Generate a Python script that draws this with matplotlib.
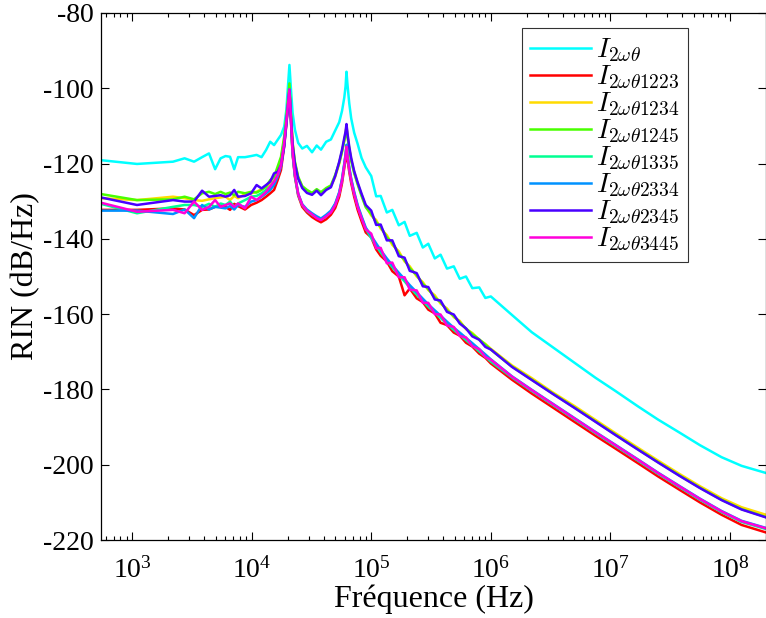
import numpy as np
import matplotlib
matplotlib.use("Agg")
from matplotlib import pyplot as plt
from matplotlib.ticker import LogLocator, NullFormatter

plt.rcParams['font.family'] = ['Liberation Serif', 'DejaVu Serif']
plt.rcParams['mathtext.fontset'] = 'cm'
plt.rcParams['axes.unicode_minus'] = False

# frequency grid (Hz) shared by all curves
FREQ = [550, 1100, 2200, 2750, 3300, 3850, 4400, 4950, 5500, 6050, 6600, 7150,
        7700, 8800, 9900, 11000, 12100, 13200, 14300, 15400, 16500, 17600, 18700, 19500,
        20700, 21300, 22000, 23000, 24500, 26500, 29000, 32000, 35000, 38000, 42000,
        46000, 50000, 54000, 57000, 59500, 61000, 62100, 63300, 65500, 68000, 72000,
        77000, 83000, 90000,
        1.0e5, 1.1e5, 1.2e5, 1.35e5, 1.5e5, 1.7e5, 1.9e5, 2.1e5, 2.4e5, 2.7e5, 3.0e5,
        3.4e5, 3.8e5, 4.3e5, 4.9e5, 5.5e5, 6.2e5, 7.0e5, 8.0e5, 9.0e5, 1.0e6,
        1.5e6, 2.2e6, 3.3e6, 5e6, 7.5e6, 1.1e7, 1.7e7, 2.5e7, 3.8e7, 5.6e7, 8.5e7,
        1.25e8, 2e8]

RIN_T = [-119.1, -120.1, -119.5, -118.6, -119.5, -118.3, -117.3, -121.5, -118.6, -118.0, -118.2, -121.5,
         -118.3, -118.3, -118.0, -117.7, -118.3, -116.4, -114.2, -115.1, -113.7, -112.4, -110.2, -105.8,
         -93.8, -100.0, -106.5, -111.0, -114.5, -116.0, -115.3, -117.0, -115.2, -116.3, -114.2,
         -113.6, -111.2, -109.0, -106.0, -102.5, -99.5, -95.6, -99.0, -104.0, -108.0, -111.8,
         -114.8, -118.5, -121.0,
         -123.3, -128.7, -128.6, -133.0, -132.3, -136.4, -135.5, -139.2, -138.4, -142.3, -141.3,
         -145.2, -144.2, -147.9, -147.3, -150.6, -150.0, -153.1, -152.9, -155.7, -155.3,
         -160.2, -164.8, -168.8, -172.9, -176.9, -180.4, -184.5, -188.0, -191.5, -194.8, -198.0,
         -200.3, -202.2]

RIN_1223 = [-132.3, -132.3, -131.9, -132.2, -133.7, -132.3, -132.2, -131.5, -131.3, -131.5, -132.3, -130.7,
            -131.3, -132.2, -131.0, -130.4, -129.7, -128.8, -127.9, -127.0, -124.4, -121.7, -115.5, -109.8,
            -100.5, -108.5, -117.5, -123.5, -128.5, -131.5, -133.0, -134.2, -135.0, -135.6, -134.8,
            -133.6, -131.8, -128.8, -125.2, -121.2, -118.8, -116.2, -118.8, -122.2, -125.2, -128.8,
            -132.3, -135.3, -138.3,
            -139.6, -142.8, -144.5, -146.0, -148.6, -150.0, -155.0, -153.2, -155.8, -156.8, -158.8,
            -159.8, -162.3, -162.9, -164.9, -165.7, -167.6, -168.6, -170.5, -171.6, -173.1,
            -177.4, -181.1, -184.8, -188.6, -192.3, -195.7, -199.6, -203.1, -206.7, -210.0, -213.3,
            -216.0, -218.0]

RIN_1234 = [-129.2, -129.7, -128.8, -129.2, -129.7, -129.9, -129.5, -129.2, -129.0, -128.8, -129.7, -128.6,
            -129.2, -128.1, -127.9, -127.5, -126.8, -126.3, -125.3, -123.9, -121.7, -119.1, -113.7, -108.4,
            -100.0, -107.0, -114.5, -119.8, -123.8, -126.2, -127.5, -128.0, -127.0, -128.0, -126.7,
            -126.0, -123.5, -120.0, -116.8, -113.8, -112.0, -110.0, -112.5, -116.0, -119.0, -122.3,
            -125.3, -128.3, -131.3,
            -133.8, -135.0, -137.3, -139.0, -141.6, -143.3, -146.0, -147.3, -150.0, -151.5, -153.6,
            -155.0, -157.2, -158.5, -160.8, -161.8, -164.0, -165.0, -166.8, -167.9, -169.2,
            -173.6, -177.0, -180.8, -184.4, -188.1, -191.6, -195.5, -198.9, -202.5, -205.7, -208.9,
            -211.3, -213.3]

RIN_1245 = [-128.1, -129.7, -129.5, -128.8, -129.5, -127.9, -127.5, -128.1, -127.5, -128.1, -127.7, -128.4,
            -127.5, -127.9, -127.5, -127.7, -127.0, -126.1, -124.4, -123.5, -120.8, -118.2, -112.9, -107.5,
            -98.7, -106.5, -114.5, -119.5, -123.5, -126.0, -127.0, -127.8, -126.8, -127.6, -126.5,
            -125.8, -123.0, -119.8, -116.8, -114.0, -112.3, -110.3, -112.8, -116.2, -119.2, -122.5,
            -125.5, -128.6, -131.6,
            -133.4, -135.6, -136.8, -139.6, -141.0, -144.0, -145.6, -147.8, -149.6, -152.0, -153.3,
            -155.6, -156.8, -159.0, -160.5, -162.2, -163.8, -165.3, -166.7, -168.1, -169.4,
            -173.9, -177.4, -181.1, -184.8, -188.5, -192.0, -195.9, -199.3, -202.9, -206.1, -209.3,
            -211.8, -213.9]

RIN_1335 = [-130.7, -133.2, -131.5, -131.0, -131.0, -131.5, -130.7, -131.5, -130.6, -131.0, -130.1, -131.5,
            -130.6, -129.7, -128.8, -128.6, -127.9, -127.0, -126.1, -124.8, -123.0, -120.4, -114.6, -108.9,
            -100.3, -108.2, -117.2, -123.2, -128.2, -131.0, -132.6, -133.6, -134.3, -134.8, -134.0,
            -132.8, -130.8, -127.8, -124.3, -120.3, -117.8, -115.3, -117.8, -121.3, -124.3, -127.8,
            -131.3, -134.3, -137.3,
            -139.8, -141.8, -143.6, -145.8, -147.5, -149.6, -151.3, -152.9, -154.8, -156.5, -158.0,
            -159.6, -161.0, -162.6, -164.2, -165.5, -166.9, -168.3, -169.9, -171.3, -172.6,
            -176.8, -180.4, -184.1, -187.9, -191.6, -195.0, -198.9, -202.4, -206.0, -209.3, -212.6,
            -215.2, -217.1]

RIN_2334 = [-132.5, -132.5, -133.4, -132.2, -134.5, -131.0, -132.2, -131.5, -131.7, -131.9, -131.3, -132.2,
            -131.0, -131.5, -130.1, -129.7, -128.8, -127.9, -127.0, -125.7, -123.5, -120.8, -115.1, -109.3,
            -100.3, -108.0, -117.2, -123.0, -128.0, -130.8, -132.2, -133.2, -134.0, -134.6, -133.6,
            -132.5, -130.6, -127.6, -124.0, -120.0, -117.6, -115.0, -117.6, -121.0, -124.0, -127.5,
            -131.0, -134.0, -137.0,
            -139.2, -141.2, -143.0, -145.2, -147.0, -149.0, -150.7, -152.3, -154.2, -155.9, -157.4,
            -159.0, -160.4, -162.0, -163.6, -164.9, -166.3, -167.7, -169.3, -170.7, -172.0,
            -176.5, -180.1, -183.8, -187.6, -191.3, -194.7, -198.6, -202.1, -205.7, -209.0, -212.3,
            -214.9, -216.8]

RIN_2345 = [-129.0, -131.0, -129.7, -130.1, -130.1, -127.2, -128.8, -128.6, -128.4, -128.8, -128.4, -127.0,
            -128.8, -128.6, -127.9, -125.7, -126.6, -125.7, -124.8, -122.6, -122.2, -120.4, -115.5, -109.3,
            -100.5, -107.5, -115.0, -120.0, -124.0, -126.5, -127.8, -128.3, -127.2, -128.4, -127.0,
            -126.3, -123.3, -119.5, -116.3, -113.2, -111.5, -109.5, -112.0, -115.5, -118.5, -122.0,
            -125.0, -128.0, -131.0,
            -132.5, -136.3, -136.2, -140.4, -140.4, -144.6, -145.0, -148.5, -149.1, -152.6, -152.8,
            -156.1, -156.4, -159.4, -160.1, -162.5, -163.8, -165.9, -166.8, -168.7, -169.4,
            -174.0, -177.5, -181.2, -184.9, -188.6, -192.1, -196.0, -199.4, -203.0, -206.2, -209.4,
            -211.9, -214.0]

RIN_3445 = [-130.4, -132.8, -132.3, -133.2, -130.1, -132.3, -131.5, -129.7, -131.5, -131.0, -130.6, -131.5,
            -130.6, -131.9, -128.8, -129.7, -128.6, -127.5, -126.1, -124.8, -123.0, -120.4, -114.6, -108.9,
            -100.3, -108.0, -117.0, -123.0, -128.0, -131.0, -132.5, -133.5, -134.5, -135.0, -134.0,
            -133.0, -131.0, -128.0, -124.5, -120.5, -118.0, -115.5, -118.0, -121.5, -124.5, -128.0,
            -131.5, -134.5, -137.5,
            -138.6, -142.5, -142.4, -146.5, -146.3, -150.2, -150.2, -153.5, -153.7, -157.0, -157.0,
            -160.0, -160.1, -163.0, -163.4, -165.8, -166.2, -168.5, -169.3, -171.4, -172.1,
            -176.6, -180.2, -183.9, -187.7, -191.4, -194.8, -198.7, -202.2, -205.8, -209.1, -212.4,
            -215.0, -216.9]

LABELS = [r'$I_{2\omega\theta}$', r'$I_{2\omega\theta1223}$', r'$I_{2\omega\theta1234}$',
          r'$I_{2\omega\theta1245}$', r'$I_{2\omega\theta1335}$', r'$I_{2\omega\theta2334}$',
          r'$I_{2\omega\theta2345}$', r'$I_{2\omega\theta3445}$']
SERIES = [RIN_T, RIN_1223, RIN_1234, RIN_1245, RIN_1335, RIN_2334, RIN_2345, RIN_3445]
COLORS = ['#00FFFF', '#FF0000', '#FFDB00', '#49FF00', '#00FF92', '#0092FF', '#4900FF', '#FF00DB']

fig = plt.figure(figsize=(7.66, 6.18), dpi=100)
ax = fig.add_axes([101/766, 1-540/618, 665/766, 527/618])

for vals, lab, col in zip(SERIES, LABELS, COLORS):
    ax.plot(FREQ, vals, color=col, lw=1.8, label=lab)

ax.set_xscale('log')
ax.set_xlim(550, 2e8)
ax.set_ylim(-220, -80)
ax.set_yticks(np.arange(-220, -79, 20))
ax.xaxis.set_major_locator(LogLocator(base=10, numticks=12))
ax.xaxis.set_minor_locator(LogLocator(base=10, subs=np.arange(2, 10), numticks=12))
ax.xaxis.set_minor_formatter(NullFormatter())
ax.tick_params(which='both', direction='in', top=True, right=True, labelsize=20, width=0.8)
ax.tick_params(which='major', length=6)
ax.tick_params(which='minor', length=3)
ax.tick_params(axis='x', pad=12)
ax.tick_params(axis='y', pad=5)
for s in ax.spines.values():
    s.set_linewidth(0.9)

ax.set_xlabel('Fréquence (Hz)', fontsize=23, labelpad=1)
ax.set_ylabel('RIN (dB/Hz)', fontsize=23, labelpad=2)

leg = ax.legend(loc='upper left', bbox_to_anchor=(0.633, 0.9715), fontsize=20,
                frameon=True, fancybox=False, handlelength=2.2, borderpad=0.3,
                labelspacing=0.0, handletextpad=0.18, borderaxespad=0)
leg.get_frame().set_edgecolor('black')
leg.get_frame().set_linewidth(0.8)

fig.savefig('out.png', dpi=100)
